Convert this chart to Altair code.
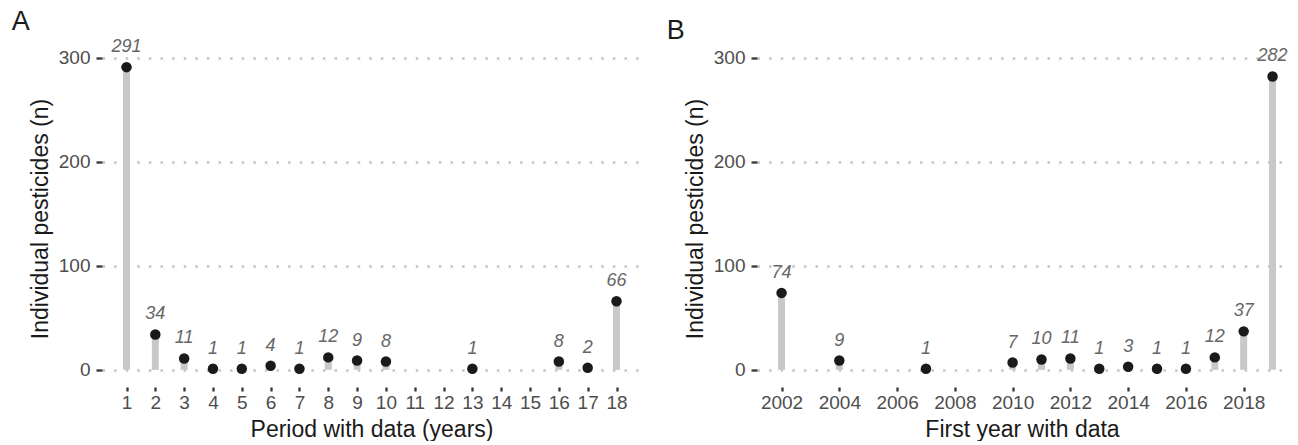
import altair as alt
import pandas as pd

# Panel A: period with data (years)
period = [1, 2, 3, 4, 5, 6, 7, 8, 9, 10, 13, 16, 17, 18]
period_n = [291, 34, 11, 1, 1, 4, 1, 12, 9, 8, 1, 8, 2, 66]
period_ticks = list(range(1, 19))

# Panel B: first year with data
first_year = [2002, 2004, 2007, 2010, 2011, 2012, 2013, 2014, 2015, 2016, 2017, 2018, 2019]
first_year_n = [74, 9, 1, 7, 10, 11, 1, 3, 1, 1, 12, 37, 282]
year_ticks = list(range(2002, 2019, 2))

y_ticks = [0, 100, 200, 300]
y_title = "Individual pesticides (n)"

FONT = "Liberation Sans"
H = 333


def panel(xs, ns, ticks, x_title, letter, width, pad_right):
    df = pd.DataFrame({"x": xs, "n": ns})
    lo, hi = min(xs), max(xs)
    pad = (hi - lo) * 0.05
    xscale = alt.Scale(domain=[lo - pad, hi + pad_right], nice=False, zero=False, padding=0)
    yscale = alt.Scale(domain=[-14.55, 305.55], nice=False, zero=False, padding=0)
    x_enc = alt.X(
        "x:Q",
        scale=xscale,
        title=x_title,
        axis=alt.Axis(
            values=ticks, format="d", grid=False, domain=False,
            tickSize=4, offset=2, labelPadding=2, titlePadding=6,
            labelFlush=False, labelOverlap=False,
        ),
    )
    y_enc = alt.Y(
        "n:Q",
        scale=yscale,
        title=y_title,
        axis=alt.Axis(
            values=y_ticks, grid=True, domain=False,
            gridColor="#c4c4c4", gridWidth=2.3, gridDash=[2.5, 9.1],
            tickSize=6, labelPadding=6, titlePadding=5.5,
        ),
    )
    base = alt.Chart(df)
    bars = base.mark_bar(size=7, color="#c8c8c8").encode(
        x=x_enc, y=y_enc, y2=alt.datum(0)
    )
    pts = base.mark_point(filled=True, size=110, color="#1a1a1a", opacity=1).encode(
        x=x_enc, y=y_enc
    )
    txt = base.mark_text(
        font=FONT, fontSize=18, fontStyle="italic", color="#666666",
        baseline="alphabetic", dy=-15,
    ).encode(x=x_enc, y=y_enc, text="n:Q")
    return alt.layer(bars, pts, txt).properties(
        width=width, height=H,
        title=alt.TitleParams(
            letter, anchor="start", frame="bounds", fontSize=27,
            font=FONT, fontWeight="normal", color="#1a1a1a", dx=-18, offset=2,
        ),
    )


a = panel(period, period_n, period_ticks, "Period with data (years)", "A", 539, 0.85)
b = panel(first_year, first_year_n, year_ticks, "First year with data", "B", 530, 0.5)

chart = (
    alt.hconcat(a, b, spacing=25)
    .properties(padding={"left": 3, "top": 0, "right": 0, "bottom": 0})
    .configure_view(stroke=None)
    .configure_axis(
        labelFont=FONT, labelFontSize=19, labelColor="#4d4d4d",
        titleFont=FONT, titleFontSize=23, titleColor="#1a1a1a",
        titleFontWeight="normal", tickColor="#333333", tickWidth=2.3,
    )
)

chart.save("out.html", embed_options={"renderer": "svg", "actions": False})
